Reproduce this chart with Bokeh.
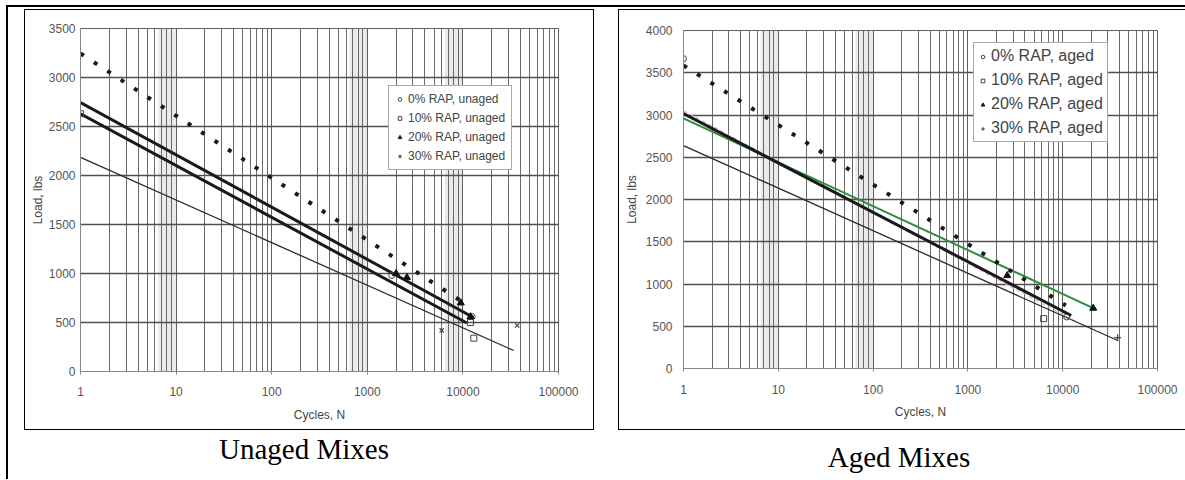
from bokeh.plotting import figure
from bokeh.models import (Range1d, FixedTicker, PrintfTickFormatter, Legend, LegendItem,
                          BoxAnnotation, Div)
from bokeh.layouts import row, column
from bokeh.embed import file_html
from bokeh.resources import INLINE

# ---------------- data ----------------
x_ticks = [1, 10, 100, 1000, 10000, 100000]
x_minor = [m * d for d in [1, 10, 100, 1000, 10000] for m in range(2, 10)]
y_ticks_unaged = [0, 500, 1000, 1500, 2000, 2500, 3000, 3500]
y_ticks_aged = [0, 500, 1000, 1500, 2000, 2500, 3000, 3500, 4000]

labels_unaged = ["0% RAP, unaged", "10% RAP, unaged", "20% RAP, unaged", "30% RAP, unaged"]
labels_aged = ["0% RAP, aged", "10% RAP, aged", "20% RAP, aged", "30% RAP, aged"]

# unaged test points (cycles, load)
u0_n = [1800, 12500]
u0_load = [980, 560]
u1_n = [1, 12000, 13000]
u1_load = [2630, 500, 340]
u2_n = [2000, 2600, 9500, 12000]
u2_load = [1000, 960, 700, 560]
u3_n = [6000, 37000]
u3_load = [420, 470]

# unaged log trend lines (start / end)
u0_fit_n = [1, 12900]
u0_fit_load = [2745, 551]
u1_fit_n = [1, 11000]
u1_fit_load = [2630, 495]
u2_fit_n = [1, 9400]
u2_fit_load = [3245, 724]
u3_fit_n = [1, 34000]
u3_fit_load = [2185, 214]

# aged test points
a0_n = [1, 11000]
a0_load = [3667, 610]
a1_n = [6300]
a1_load = [590]
a2_n = [2600, 21000]
a2_load = [1100, 714]
a3_n = [38000]
a3_load = [365]

# aged log trend lines
a0_fit_n = [1, 10800]
a0_fit_load = [3586, 745]
a1_fit_n = [1, 12300]
a1_fit_load = [3017, 627]
a2_fit_n = [1, 21000]
a2_fit_load = [2960, 714]
a3_fit_n = [1, 38000]
a3_fit_load = [2638, 331]
a_pink_fit_n = [1, 13500]
a_pink_fit_load = [3050, 560]

# scan shading bands (decade index)
bands_unaged = [0, 2, 3]
bands_aged = [0, 1]

FONT = "Liberation Sans"
GRID = "#5f5f5f"
TXT = "#555555"


def base_chart(W, H, bl, br, bt, bb, ymax, yticks, bands, xstand, xals, ystand, yals):
    p = figure(width=W, height=H, x_axis_type="log",
               x_range=Range1d(1, 100000), y_range=Range1d(0, ymax),
               output_backend="svg", toolbar_location=None,
               min_border_left=bl, min_border_right=br, min_border_top=bt, min_border_bottom=bb,
               margin=0)
    p.background_fill_color = "white"
    p.border_fill_color = "white"
    p.outline_line_color = GRID
    xt = FixedTicker(ticks=x_ticks, minor_ticks=x_minor)
    yt = FixedTicker(ticks=yticks)
    p.xaxis.ticker = xt
    p.yaxis.ticker = yt
    p.xgrid.ticker = xt
    p.ygrid.ticker = yt
    p.xaxis.formatter = PrintfTickFormatter(format="%d")
    p.xgrid.grid_line_color = GRID
    p.xgrid.minor_grid_line_color = "#6a6a6a"
    p.ygrid.grid_line_color = "#505050"
    p.ygrid.grid_line_width = 1.5
    for ax in (p.xaxis, p.yaxis):
        ax.axis_line_color = "#888888"
        ax.major_tick_line_color = "#888888"
        ax.minor_tick_line_color = None
        ax.major_tick_in = 0
        ax.minor_tick_in = 0
        ax.minor_tick_out = 0
        ax.major_label_text_font = FONT
        ax.major_label_text_font_size = "12px"
        ax.major_label_text_color = TXT
        ax.axis_label_text_font = FONT
        ax.axis_label_text_font_size = "12px"
        ax.axis_label_text_font_style = "normal"
        ax.axis_label_text_color = "#444444"
    p.xaxis.major_tick_out = 3
    p.yaxis.major_tick_out = 0
    p.xaxis.major_label_standoff = xstand
    p.xaxis.axis_label_standoff = xals
    p.yaxis.major_label_standoff = ystand
    p.yaxis.axis_label_standoff = yals
    p.xaxis.axis_label = "Cycles, N"
    p.yaxis.axis_label = "Load, lbs"
    for k in bands:
        p.add_layout(BoxAnnotation(left=6.5 * 10 ** k, right=10 ** (k + 1), fill_color="#b8b8b8",
                                   fill_alpha=0.3, line_color=None, level="image"))
    return p


def add_legend(p, items, loc, fs, gh, sp, pad):
    lg = Legend(items=items, location=loc, label_text_font=FONT, label_text_font_size=fs,
                label_text_color="#444444", glyph_width=9, glyph_height=gh, label_height=gh,
                spacing=sp, padding=pad, margin=0, label_standoff=4,
                border_line_color="#555555", border_line_width=1,
                background_fill_color="white", background_fill_alpha=1)
    p.add_layout(lg)


# ---------------- left chart: unaged ----------------
p1 = base_chart(568, 419, 55, 35, 18, 58, 3500, y_ticks_unaged, bands_unaged, 12, 9, 5, 1)
p1.line(u0_fit_n, u0_fit_load, line_color="#1a1a1a", line_width=3)
p1.line(u1_fit_n, u1_fit_load, line_color="#1a1a1a", line_width=3)
p1.line(u2_fit_n, u2_fit_load, line_color="#1a1a1a", line_width=4, line_dash="4 12")
p1.line(u3_fit_n, u3_fit_load, line_color="#2a2a2a", line_width=1.3)
r_u0 = p1.scatter(u0_n, u0_load, marker="circle", size=6, line_color="#444444", fill_color=None)
r_u1 = p1.scatter(u1_n, u1_load, marker="square", size=6, line_color="#444444", fill_color=None)
r_u2 = p1.scatter(u2_n, u2_load, marker="triangle", size=7, line_color="#111111", fill_color="#111111")
r_u3 = p1.scatter(u3_n, u3_load, marker="x", size=6, line_color="#444444", line_width=1.2)
add_legend(p1, [LegendItem(label=labels_unaged[i], renderers=[r]) for i, r in
                enumerate([r_u0, r_u1, r_u2, r_u3])], (308, 201), "12px", 14, 5, 6)

# ---------------- right chart: aged ----------------
p2 = base_chart(566, 419, 64, 28, 20, 61, 4000, y_ticks_aged, bands_aged, 13, 8, 11, 4)
p2.line(a_pink_fit_n, a_pink_fit_load, line_color="#e2a6e2", line_width=1.2, line_dash="4 3")
p2.line(a3_fit_n, a3_fit_load, line_color="#2a2a2a", line_width=1.3)
p2.line(a2_fit_n, a2_fit_load, line_color="#2e8b3a", line_width=2)
p2.line(a1_fit_n, a1_fit_load, line_color="#1a1a1a", line_width=3)
p2.line(a0_fit_n, a0_fit_load, line_color="#1a1a1a", line_width=4, line_dash="4 12")
r_a0 = p2.scatter(a0_n, a0_load, marker="circle", size=6, line_color="#444444", fill_color=None)
r_a1 = p2.scatter(a1_n, a1_load, marker="square", size=6, line_color="#444444", fill_color=None)
r_a2 = p2.scatter(a2_n, a2_load, marker="triangle", size=7, line_color="#111111", fill_color="#111111")
r_a3 = p2.scatter(a3_n, a3_load, marker="cross", size=7, line_color="#444444", line_width=1.2)
add_legend(p2, [LegendItem(label=labels_aged[i], renderers=[r]) for i, r in
                enumerate([r_a0, r_a1, r_a2, r_a3])], (290, 226), "16px", 17, 6, 4)


# ---------------- page decorations ----------------
def bar(w, h, color="#000000"):
    return Div(text="", width=w, height=h, margin=0, styles={"background-color": color})


def gap(w, h):
    return Div(text="", width=w, height=h, margin=0)


def caption(text, w, inner_w, pad):
    html = ('<div style="width:%dpx;text-align:center;padding-top:%dpx;'
            'font-family:\'Liberation Serif\';font-size:29px;line-height:28px;color:#000;'
            'white-space:nowrap;">%s</div>' % (inner_w, pad, text))
    return Div(text=html, width=w, height=49, margin=0)


left_cell = column(
    gap(570, 2),
    bar(570, 1),
    row(bar(1, 419), p1, bar(1, 419), spacing=0),
    bar(570, 1),
    caption("Unaged Mixes", 570, 560, 5),
    spacing=0)

right_cell = column(
    gap(567, 2),
    bar(567, 1),
    row(bar(1, 419), p2, spacing=0),
    bar(567, 1),
    caption("Aged Mixes", 567, 562, 13),
    spacing=0)

body = row(gap(6, 10), bar(2, 472), gap(16, 10), left_cell, gap(24, 10), right_cell, spacing=0)
root = column(gap(1185, 5), row(gap(6, 2), bar(1179, 2), spacing=0), body, spacing=0)

open("out.html", "w").write(file_html(root, INLINE))
